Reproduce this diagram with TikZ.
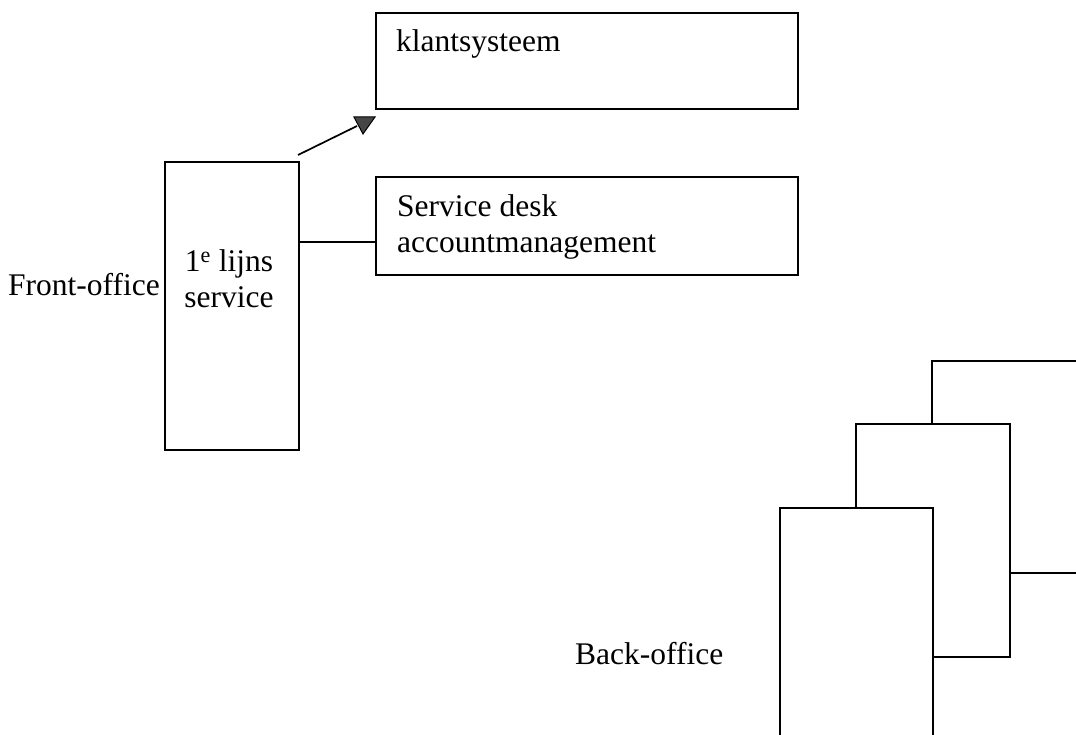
\documentclass[tikz,border=0pt]{standalone}
\usepackage{fontspec}
\setmainfont{Liberation Serif}
\begin{document}
\begin{tikzpicture}[x=1pt,y=-1pt,
  box/.style={draw=black, line width=1.7pt, fill=white, rectangle, inner sep=0pt, anchor=north west},
  label/.style={inner sep=0pt, anchor=base west, font=\fontsize{31.5}{36}\selectfont},
  link/.style={draw=black, line width=1.7pt}]
\useasboundingbox (0,0) rectangle (1076,735);
\clip (0,0) rectangle (1076,735);

% front office boxes
\node[box, minimum width=422pt, minimum height=96pt] (ks) at (375,12) {};
\node[box, minimum width=422pt, minimum height=98pt] (sd) at (375,176) {};
\node[box, minimum width=134pt, minimum height=288pt] (fl) at (164,161) {};

% texts
\node[label] (kst) at (396,52) {klantsysteem};
\node[label] (sdt1) at (397,217) {Service desk};
\node[label] (sdt2) at (397,253) {accountmanagement};
\node[label, anchor=base] (flt1) at (229,272) {1\textsuperscript{e} lijns};
\node[label, anchor=base] (flt2) at (229,308) {service};
\node[label] (fo) at (8,295) {Front-office};
\node[label] (bo) at (575,664) {Back-office};

% connectors
\coordinate (astart) at (298,155);
\coordinate (atip) at (357,126);
\draw[link] (astart) -- (atip);
\filldraw[fill=gray!55!black, draw=black, line width=1pt] (354,117) -- (375,117) -- (363,134) -- cycle;
\draw[link] (fl.east |- 0,242) -- (sd.west |- 0,242);

% back office stack
\node[box, minimum width=200pt, minimum height=212pt] (bA) at (931,360) {};
\node[box, minimum width=154pt, minimum height=233pt] (bB) at (855,423) {};
\node[box, minimum width=153pt, minimum height=280pt] (bC) at (779,507) {};
\end{tikzpicture}
\end{document}
